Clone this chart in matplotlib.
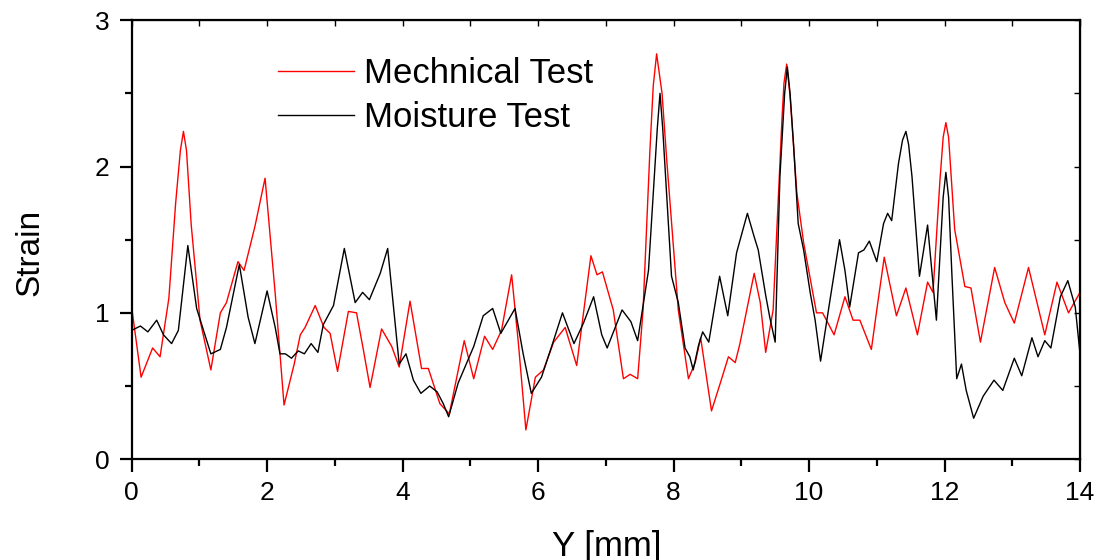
import matplotlib
matplotlib.use("Agg")
import matplotlib.pyplot as plt
from matplotlib.ticker import MultipleLocator

plt.rcParams['font.family'] = ['Liberation Sans', 'DejaVu Sans']

# Mechanical test curve
mech_x = [0.0, 0.14, 0.31, 0.42, 0.55, 0.65, 0.72, 0.765, 0.81, 0.88, 1.01, 1.17, 1.31, 1.40,
          1.57, 1.66, 1.82, 1.97, 2.12, 2.25, 2.40, 2.49, 2.56, 2.71, 2.84, 2.93, 3.04,
          3.20, 3.32, 3.42, 3.52, 3.69, 3.84, 3.95, 4.11, 4.28, 4.38, 4.55, 4.69, 4.91,
          5.05, 5.21, 5.33, 5.46, 5.61, 5.71, 5.82, 5.96, 6.08, 6.23, 6.40, 6.57, 6.78,
          6.87, 6.95, 7.11, 7.26, 7.36, 7.47, 7.55, 7.65, 7.70, 7.75, 7.83, 7.90, 8.07,
          8.22, 8.32, 8.40, 8.56, 8.69, 8.81, 8.91, 8.98, 9.19, 9.28, 9.36, 9.47, 9.60,
          9.63, 9.67, 9.72, 9.82, 9.92, 10.11, 10.20, 10.37, 10.53, 10.65, 10.75, 10.92,
          11.00, 11.11, 11.29, 11.43, 11.60, 11.75, 11.83, 11.93, 11.98, 12.02, 12.06,
          12.15, 12.30, 12.39, 12.53, 12.74, 12.89, 13.03, 13.24, 13.48, 13.66, 13.83, 14.0]
mech_y = [1.04, 0.56, 0.76, 0.70, 1.10, 1.75, 2.11, 2.24, 2.11, 1.60, 0.95, 0.61, 1.00, 1.07,
          1.35, 1.29, 1.59, 1.92, 1.13, 0.37, 0.65, 0.85, 0.90, 1.05, 0.90, 0.86, 0.60,
          1.01, 1.00, 0.75, 0.49, 0.89, 0.77, 0.63, 1.08, 0.62, 0.62, 0.38, 0.31, 0.81,
          0.55, 0.84, 0.75, 0.88, 1.26, 0.79, 0.20, 0.56, 0.61, 0.80, 0.90, 0.64, 1.39,
          1.26, 1.28, 1.02, 0.55, 0.58, 0.55, 1.02, 2.10, 2.55, 2.77, 2.50, 2.04, 1.02,
          0.55, 0.66, 0.83, 0.33, 0.52, 0.70, 0.66, 0.79, 1.27, 1.07, 0.73, 1.02, 2.32,
          2.57, 2.70, 2.48, 1.82, 1.48, 1.00, 1.00, 0.85, 1.11, 0.95, 0.95, 0.75,
          1.02, 1.38, 0.98, 1.17, 0.85, 1.21, 1.14, 1.89, 2.20, 2.30, 2.20,
          1.57, 1.18, 1.17, 0.80, 1.31, 1.07, 0.93, 1.31, 0.85, 1.21, 1.00, 1.14]

# Moisture test curve
moist_x = [0.0, 0.13, 0.24, 0.37, 0.47, 0.59, 0.69, 0.83, 0.96, 1.17, 1.31, 1.40, 1.59,
           1.72, 1.82, 2.00, 2.12, 2.19, 2.27, 2.36, 2.46, 2.55, 2.65, 2.75, 2.83, 2.98,
           3.14, 3.30, 3.41, 3.51, 3.67, 3.78, 3.86, 3.95, 4.05, 4.16, 4.27, 4.40, 4.51,
           4.60, 4.68, 4.82, 5.05, 5.19, 5.33, 5.45, 5.66, 5.78, 5.90, 6.05, 6.20, 6.36,
           6.53, 6.67, 6.82, 6.94, 7.02, 7.24, 7.37, 7.47, 7.63, 7.73, 7.76, 7.80, 7.84,
           7.90, 7.97, 8.07, 8.17, 8.24, 8.29, 8.37, 8.43, 8.52, 8.68, 8.80, 8.93, 9.09,
           9.19, 9.25, 9.36, 9.42, 9.50, 9.57, 9.64, 9.68, 9.72, 9.77, 9.84, 9.92, 10.02,
           10.09, 10.17, 10.31, 10.45, 10.53, 10.60, 10.73, 10.81, 10.89, 11.00, 11.10,
           11.16, 11.22, 11.32, 11.38, 11.43, 11.47, 11.52, 11.63, 11.75, 11.88, 11.98,
           12.02, 12.06, 12.11, 12.18, 12.25, 12.32, 12.43, 12.57, 12.73, 12.86, 13.03,
           13.14, 13.29, 13.38, 13.48, 13.57, 13.71, 13.82, 13.93, 14.0]
moist_y = [0.88, 0.91, 0.87, 0.95, 0.85, 0.79, 0.88, 1.46, 1.03, 0.72, 0.75, 0.90, 1.33,
           0.97, 0.79, 1.15, 0.90, 0.72, 0.72, 0.69, 0.74, 0.72, 0.79, 0.73, 0.92, 1.05,
           1.44, 1.07, 1.14, 1.09, 1.27, 1.44, 1.07, 0.65, 0.72, 0.54, 0.45, 0.50, 0.46,
           0.38, 0.29, 0.52, 0.77, 0.98, 1.03, 0.86, 1.03, 0.72, 0.45, 0.56, 0.77, 1.00,
           0.79, 0.93, 1.11, 0.85, 0.76, 1.02, 0.94, 0.81, 1.29, 2.04, 2.26, 2.50, 2.26,
           1.79, 1.25, 1.07, 0.76, 0.70, 0.61, 0.78, 0.87, 0.80, 1.25, 0.98, 1.41, 1.68,
           1.52, 1.43, 1.12, 0.97, 0.80, 1.93, 2.50, 2.68, 2.50, 2.16, 1.61, 1.43, 1.13,
           0.95, 0.67, 1.09, 1.50, 1.29, 1.04, 1.41, 1.43, 1.49, 1.35, 1.61,
           1.68, 1.63, 2.02, 2.18, 2.24, 2.15, 1.93, 1.25, 1.60, 0.95, 1.79,
           1.96, 1.79, 1.25, 0.55, 0.65, 0.47, 0.28, 0.43, 0.54, 0.47, 0.69,
           0.57, 0.83, 0.70, 0.81, 0.76, 1.11, 1.22, 1.04, 0.72]

fig = plt.figure(figsize=(11.06, 5.6), dpi=100)
ax = fig.add_axes([0.119, 0.180, 0.8575, 0.784])

ax.plot(mech_x, mech_y, color='red', lw=1.0, label='Mechnical Test')
ax.plot(moist_x, moist_y, color='black', lw=1.0, label='Moisture Test')

ax.set_xlim(0, 14)
ax.set_ylim(0, 3)
ax.xaxis.set_major_locator(MultipleLocator(2))
ax.xaxis.set_minor_locator(MultipleLocator(1))
ax.yaxis.set_major_locator(MultipleLocator(1))
ax.yaxis.set_minor_locator(MultipleLocator(0.5))

for s in ax.spines.values():
    s.set_linewidth(1.6)

ax.tick_params(which='major', direction='out', length=9, width=1.6, labelsize=19, pad=7)
ax.tick_params(which='minor', direction='out', length=5, width=1.6)

# small inward ticks on the top and right edges
top = ax.secondary_xaxis('top')
top.xaxis.set_major_locator(MultipleLocator(1))
top.tick_params(direction='in', length=4, width=1.0, labeltop=False)
right = ax.secondary_yaxis('right')
right.yaxis.set_major_locator(MultipleLocator(0.5))
right.tick_params(direction='in', length=4, width=1.0, labelright=False)

ax.set_xlabel('Y [mm]', fontsize=25, va='top')
ax.xaxis.set_label_coords(0.501, -0.162)
ax.set_ylabel('Strain', fontsize=24, va='center')
ax.yaxis.set_label_coords(-0.107, 0.47)

ax.legend(loc='upper left', bbox_to_anchor=(0.154, 0.915), frameon=False, fontsize=25,
          handlelength=2.2, handletextpad=0.29, labelspacing=0.3, borderpad=0,
          borderaxespad=0)

plt.savefig('out.png', dpi=100)
